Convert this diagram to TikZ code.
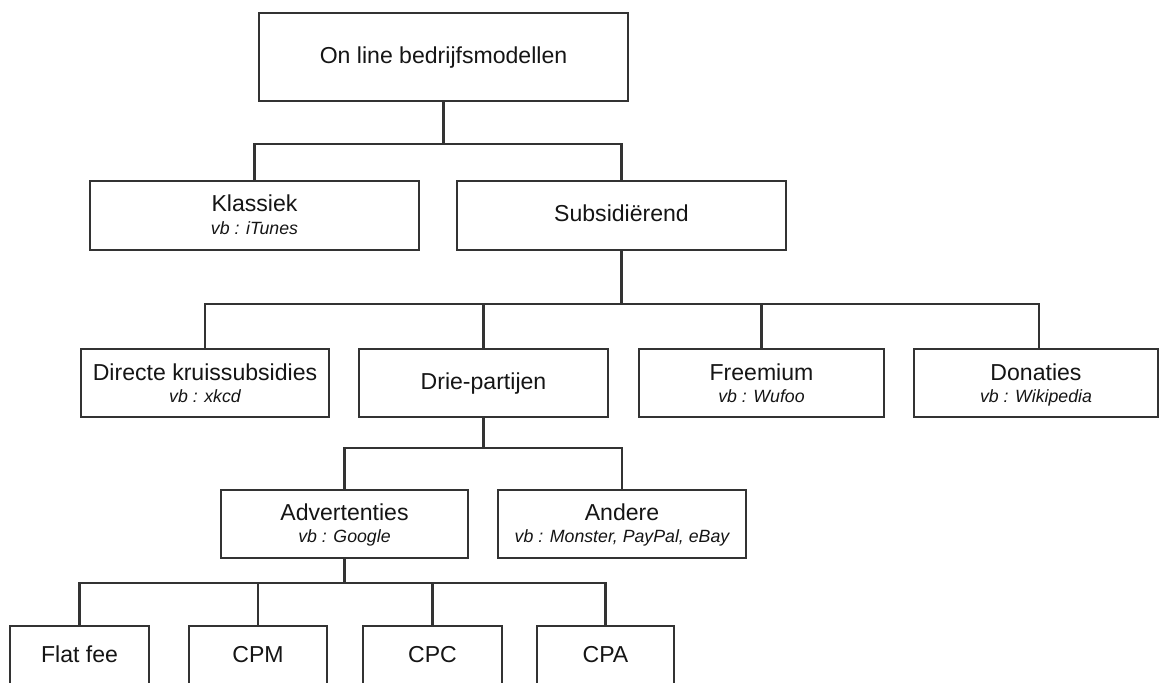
\documentclass[tikz,border=0pt]{standalone}
\usepackage{fontspec}
\setmainfont{Liberation Sans}
\definecolor{ln}{HTML}{333333}
\definecolor{tx}{HTML}{151515}
\begin{document}
\begin{tikzpicture}[x=0.75pt,y=-0.75pt,
  bx/.style={draw=ln, line width=1.7pt, fill=white, inner sep=0pt, minimum height=#1*0.75pt},
  bx/.default=69,
  conn/.style={draw=ln, line width=1.8pt},
  ttl/.style={font=\fontsize{17.3}{20}\selectfont, text=tx, anchor=base, inner sep=0pt},
  sbt/.style={font=\fontsize{13.3}{16}\selectfont\itshape, text=tx, anchor=base, inner sep=0pt}]
\useasboundingbox (0,0) rectangle (1160,682);
\clip (0,0) rectangle (1160,682);
% bus levels
\coordinate (b1) at (0,144);
\coordinate (b2) at (0,304);
\coordinate (b3) at (0,448);
\coordinate (b4) at (0,583);
% boxes
\node[bx=88, minimum width=369*0.75pt] (top) at (443.5,57) {};
\node[bx, minimum width=329*0.75pt] (kl) at (254.5,215.5) {};
\node[bx, minimum width=329*0.75pt] (sub) at (621.5,215.5) {};
\node[bx=68, minimum width=248*0.75pt] (dir) at (205,383) {};
\node[bx=68, minimum width=249*0.75pt] (drie) at (483.5,383) {};
\node[bx=68, minimum width=245*0.75pt] (free) at (761.5,383) {};
\node[bx=68, minimum width=244*0.75pt] (don) at (1036,383) {};
\node[bx=68, minimum width=247*0.75pt] (adv) at (344.5,524) {};
\node[bx=68, minimum width=248*0.75pt] (and) at (622,524) {};
\node[bx=74, minimum width=139*0.75pt] (ff) at (79.5,663) {};
\node[bx=74, minimum width=138*0.75pt] (cpm) at (258,663) {};
\node[bx=74, minimum width=139*0.75pt] (cpc) at (432.5,663) {};
\node[bx=74, minimum width=137*0.75pt] (cpa) at (605.5,663) {};
% texts
\node[ttl] (topT) at (443.5,63) {On line bedrijfsmodellen};
\node[ttl] (klT) at (254.5,211.5) {Klassiek};
\node[sbt] (klS) at (254.5,234) {vb : iTunes};
\node[ttl] (subT) at (621.5,221.5) {Subsidiërend};
\node[ttl] (dirT) at (205,380) {Directe kruissubsidies};
\node[sbt] (dirS) at (205,402) {vb : xkcd};
\node[ttl] (drieT) at (483.5,389) {Drie-partijen};
\node[ttl] (freeT) at (761.5,380) {Freemium};
\node[sbt] (freeS) at (761.5,402) {vb : Wufoo};
\node[ttl] (donT) at (1036,380) {Donaties};
\node[sbt] (donS) at (1036,402) {vb : Wikipedia};
\node[ttl] (advT) at (344.5,520) {Advertenties};
\node[sbt] (advS) at (344.5,542) {vb : Google};
\node[ttl] (andT) at (622,520) {Andere};
\node[sbt] (andS) at (622,542) {vb : Monster, PayPal, eBay};
\node[ttl] (ffT) at (79.5,662) {Flat fee};
\node[ttl] (cpmT) at (258,662) {CPM};
\node[ttl] (cpcT) at (432.5,662) {CPC};
\node[ttl] (cpaT) at (605.5,662) {CPA};
% connectors
\draw[conn] (top.south) -- (top.south |- b1) -| (kl.north);
\draw[conn] (top.south) -- (top.south |- b1) -| (sub.north);
\draw[conn] (sub.south) -- (sub.south |- b2) -| (dir.north);
\draw[conn] (sub.south) -- (sub.south |- b2) -| (drie.north);
\draw[conn] (sub.south) -- (sub.south |- b2) -| (free.north);
\draw[conn] (sub.south) -- (sub.south |- b2) -| ([xshift=2.25pt]don.north);
\draw[conn] (drie.south) -- (drie.south |- b3) -| (adv.north);
\draw[conn] (drie.south) -- (drie.south |- b3) -| (and.north);
\draw[conn] (adv.south) -- (adv.south |- b4) -| (ff.north);
\draw[conn] (adv.south) -- (adv.south |- b4) -| (cpm.north);
\draw[conn] (adv.south) -- (adv.south |- b4) -| (cpc.north);
\draw[conn] (adv.south) -- (adv.south |- b4) -| (cpa.north);
\end{tikzpicture}
\end{document}
